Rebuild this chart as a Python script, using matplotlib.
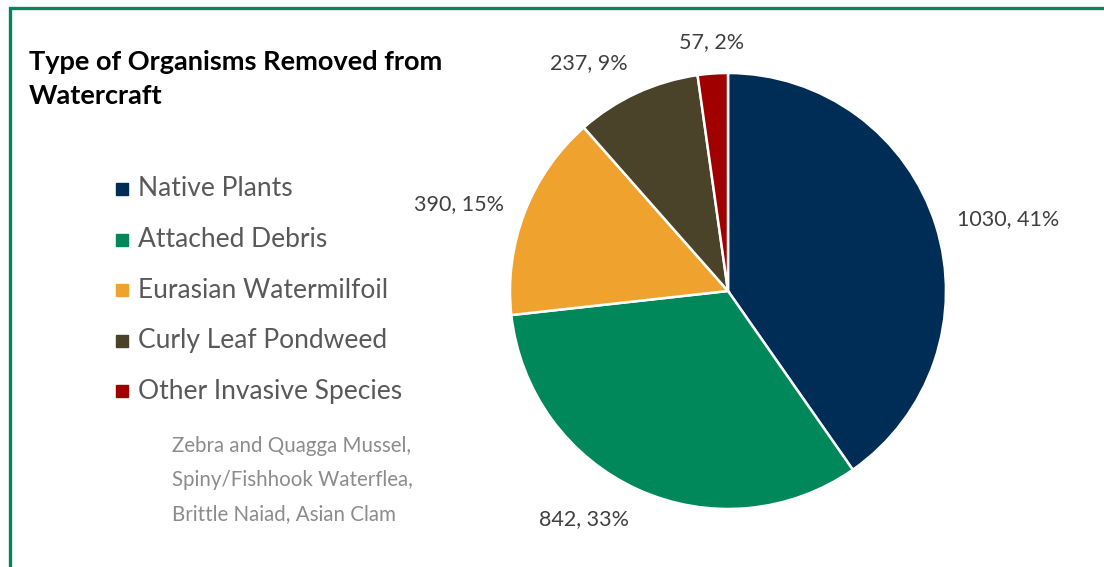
import matplotlib

matplotlib.use("Agg")

import matplotlib.pyplot as plt
import numpy as np
from matplotlib.lines import Line2D

# dados
categorias = ["Native Plants", "Attached Debris", "Eurasian Watermilfoil",
              "Curly Leaf Pondweed", "Other Invasive Species"]
valores = [1030, 842, 390, 237, 57]
percentuais = [41, 33, 15, 9, 2]
cores = ["#002D56", "#00875A", "#F0A22E", "#4A4229", "#A00000"]
titulo = "Type of Organisms Removed from\nWatercraft"
nota = "Zebra and Quagga Mussel,\nSpiny/Fishhook Waterflea,\nBrittle Naiad, Asian Clam"

plt.rcParams["font.family"] = ["Lato", "DejaVu Sans"]

W, H = 1104, 567
fig = plt.figure(figsize=(W / 100, H / 100), dpi=100)
ax = fig.add_axes([0, 0, 1, 1])

# moldura verde (so topo e lado esquerdo aparecem no recorte)
verde = "#00875A"
fig.add_artist(Line2D([9.5 / W, 9.5 / W, 1], [0, 1 - 7.5 / H, 1 - 7.5 / H],
                      transform=fig.transFigure, color=verde, lw=2.4,
                      solid_joinstyle="miter"))

cx, cy, r = 728, H - 291, 218
wedges, _ = ax.pie(valores, colors=cores, startangle=90, counterclock=False,
                   center=(cx, cy), radius=r, frame=True,
                   wedgeprops=dict(edgecolor="white", linewidth=1.8))

# rotulos fora da fatia, estilo "outside end"
for w, v, p in zip(wedges, valores, percentuais):
    ang = np.deg2rad((w.theta1 + w.theta2) / 2)
    c, s = np.cos(ang), np.sin(ang)
    d = r * 1.1
    ha = "left" if c > 0.3 else ("right" if c < -0.3 else "center")
    va = "bottom" if s > 0.5 else ("top" if s < -0.5 else "center")
    ax.text(cx + d * c, cy + d * s, f"{v}, {p}%", ha=ha, va=va,
            fontsize=15.5, color="#404040")

ax.set_xlim(0, W)
ax.set_ylim(0, H)
ax.set_aspect("equal")
ax.axis("off")

ax.text(29, H - 79, titulo, fontsize=19.5, fontweight="bold", color="black",
        va="center", ha="left", linespacing=1.55)

# legenda manual
y0, dy = H - 189, 50.5
for i, (nome, cor) in enumerate(zip(categorias, cores)):
    y = y0 - i * dy
    ax.add_patch(plt.Rectangle((116, y - 6), 12, 12, color=cor))
    ax.text(138, y, nome, fontsize=19, color="#595959", va="center", ha="left")

ax.text(172, H - 480, nota, fontsize=14.8, color="#8C8C8C", va="center", ha="left",
        linespacing=1.9)

fig.savefig("out.png", dpi=100)
